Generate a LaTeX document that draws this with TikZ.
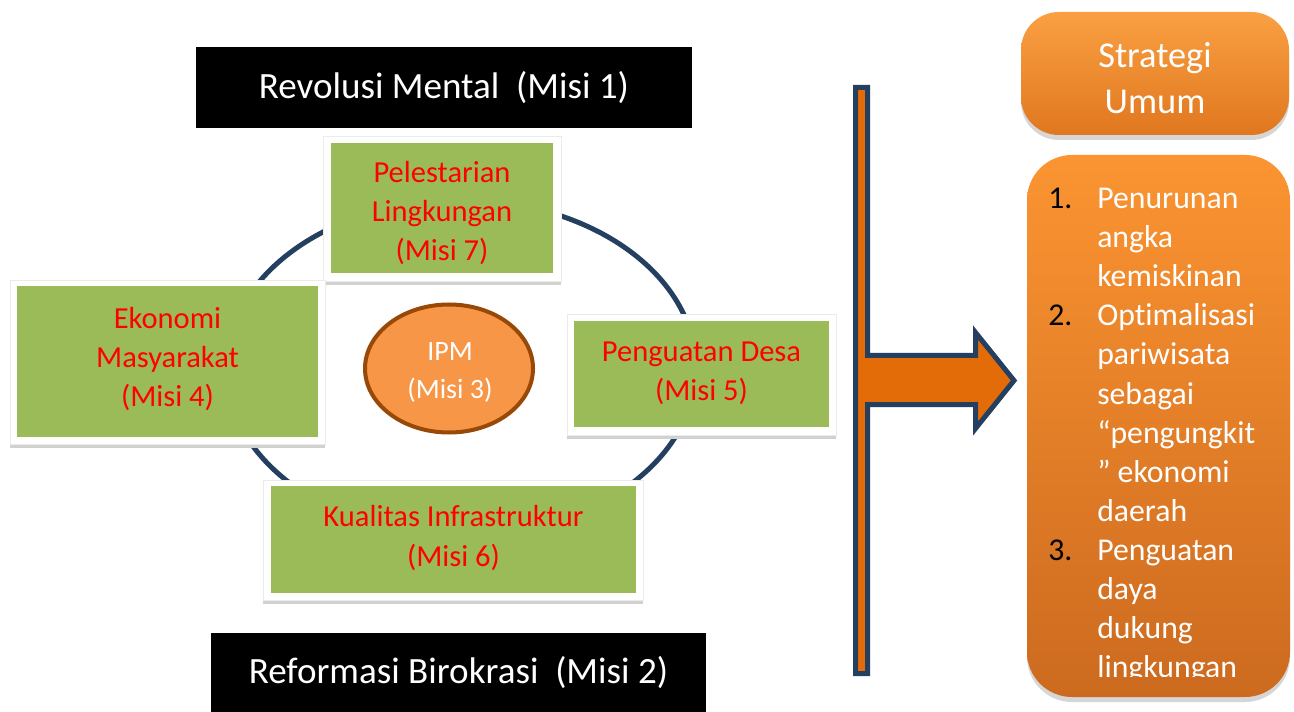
\documentclass[tikz,border=0pt]{standalone}
\usepackage{fontspec}
\setmainfont{Carlito}[Ligatures=NoCommon]
\usetikzlibrary{shapes.geometric}
\definecolor{navy}{HTML}{243F60}
\definecolor{grn}{HTML}{9BBB59}
\definecolor{arrowor}{HTML}{E36C09}
\definecolor{ipmfill}{HTML}{F79646}
\definecolor{ipmline}{HTML}{984807}
\definecolor{redtxt}{HTML}{FF0000}
\definecolor{orA}{HTML}{FAA043}
\definecolor{orB}{HTML}{E0771F}
\definecolor{orC}{HTML}{FB9431}
\definecolor{orD}{HTML}{CC6A1F}
\newdimen\pxu \pxu=0.75pt
\begin{document}
\begin{tikzpicture}[x=0.75pt,y=-0.75pt,
  blackbox/.style={fill=black, text=white, inner sep=0pt, font=\fontsize{27.8pt}{33pt}\selectfont},
  greenbox/.style={fill=grn, inner sep=0pt},
  greentext/.style={text=redtxt, align=center, inner sep=0pt, font=\fontsize{22.9pt}{29.3pt}\selectfont},
  framebox/.style={fill=white, draw=black!8, line width=0.4pt},
  frameshadow/.style={fill=black!18},
  ipmnode/.style={ellipse, fill=ipmfill, draw=ipmline, line width=3pt, inner sep=0pt},
  ipmtext/.style={text=white, align=center, inner sep=0pt, font=\fontsize{21pt}{28.5pt}\selectfont},
  orshadow/.style={fill=black!16},
  listtext/.style={anchor=base west, text=white, inner sep=0pt, font=\fontsize{23.8pt}{29pt}\selectfont},
  listnum/.style={anchor=base west, text=black, inner sep=0pt, font=\fontsize{23.8pt}{29pt}\selectfont}
]
\useasboundingbox (0,0) rectangle (1294,712);
\fill[white] (0,0) rectangle (1294,712);

% cycle ellipse
\draw[navy, line width=3.75pt] (461,368) ellipse [x radius=235, y radius=168];

% black boxes
\node[blackbox, minimum width=496\pxu, minimum height=81\pxu] (rm) at (444,87.5) {Revolusi Mental~~(Misi 1)};
\node[blackbox, minimum width=495\pxu, minimum height=79\pxu] (rb) at (458.5,672.5) {Reformasi Birokrasi~~(Misi 2)};

% green boxes with white frames
\fill[frameshadow] (323,140) rectangle (561,285);
\filldraw[framebox] (323,136) rectangle (561,281);
\node[greenbox, minimum width=222\pxu, minimum height=130\pxu] (m7) at (442,208) {};
\node[greentext] (m7t) at (442,213) {Pelestarian\\Lingkungan\\(Misi 7)};

\fill[frameshadow] (10,284) rectangle (325,448);
\filldraw[framebox] (10,280) rectangle (325,444);
\node[greenbox, minimum width=301\pxu, minimum height=151\pxu] (m4) at (167.5,361.5) {};
\node[greentext] (m4t) at (167.5,359) {Ekonomi\\Masyarakat\\(Misi 4)};

\fill[frameshadow] (567,318) rectangle (836,439);
\filldraw[framebox] (567,314) rectangle (836,435);
\node[greenbox, minimum width=255\pxu, minimum height=106\pxu] (m5) at (701.5,374) {};
\node[greentext] (m5t) at (701.5,373) {Penguatan Desa\\(Misi 5)};

\fill[frameshadow] (263,484) rectangle (643,604);
\filldraw[framebox] (263,480) rectangle (643,600);
\node[greenbox, minimum width=365\pxu, minimum height=107\pxu] (m6) at (453.5,539.5) {};
\node[greentext] (m6t) at (453.5,538) {Kualitas Infrastruktur\\(Misi 6)};

% IPM
\node[ipmnode, minimum width=168\pxu, minimum height=128\pxu] (m3) at (449,368.5) {};
\node[ipmtext] (m3t) at (450,372) {IPM\\(Misi 3)};

% bracket arrow
\draw[navy, fill=arrowor, line width=3.75pt, line join=miter]
  (855.5,87.5) -- (867.5,87.5) -- (867.5,355.5) -- (975.5,355.5) -- (975.5,332.5)
  -- (1014,380.5) -- (975.5,428.5) -- (975.5,404.5) -- (867.5,404.5)
  -- (867.5,673.5) -- (855.5,673.5) -- cycle;

% orange boxes
\fill[orshadow, rounded corners=38\pxu] (1021,17) rectangle (1289,140);
\node[rectangle, rounded corners=38\pxu, top color=orA, bottom color=orB,
      minimum width=268\pxu, minimum height=123\pxu, inner sep=0pt] (su) at (1155,73.5) {};
\node[text=white, align=center, inner sep=0pt, font=\fontsize{27.3pt}{34.5pt}\selectfont] (sut) at (1155,78) {Strategi\\Umum};

\fill[orshadow, rounded corners=45\pxu] (1027,160) rectangle (1290,702);
\node[rectangle, rounded corners=45\pxu, top color=orC, bottom color=orD,
      minimum width=263\pxu, minimum height=542\pxu, inner sep=0pt] (lst) at (1158.5,426) {};

\begin{scope}
\clip (1027,155) rectangle (1290,676);
\node[listnum] (n1) at (1048,208.5) {1.};
\node[listnum] (n2) at (1048,325.8) {2.};
\node[listnum] (n3) at (1048,560.4) {3.};
\foreach \t [count=\i] in {Penurunan,angka,kemiskinan,Optimalisasi,pariwisata,sebagai,“pengungkit,” ekonomi,daerah,Penguatan,daya,dukung,lingkungan}
  \node[listtext] (l\i) at (1097,{208.5+39.1*(\i-1)}) {\t};
\end{scope}
\end{tikzpicture}
\end{document}
